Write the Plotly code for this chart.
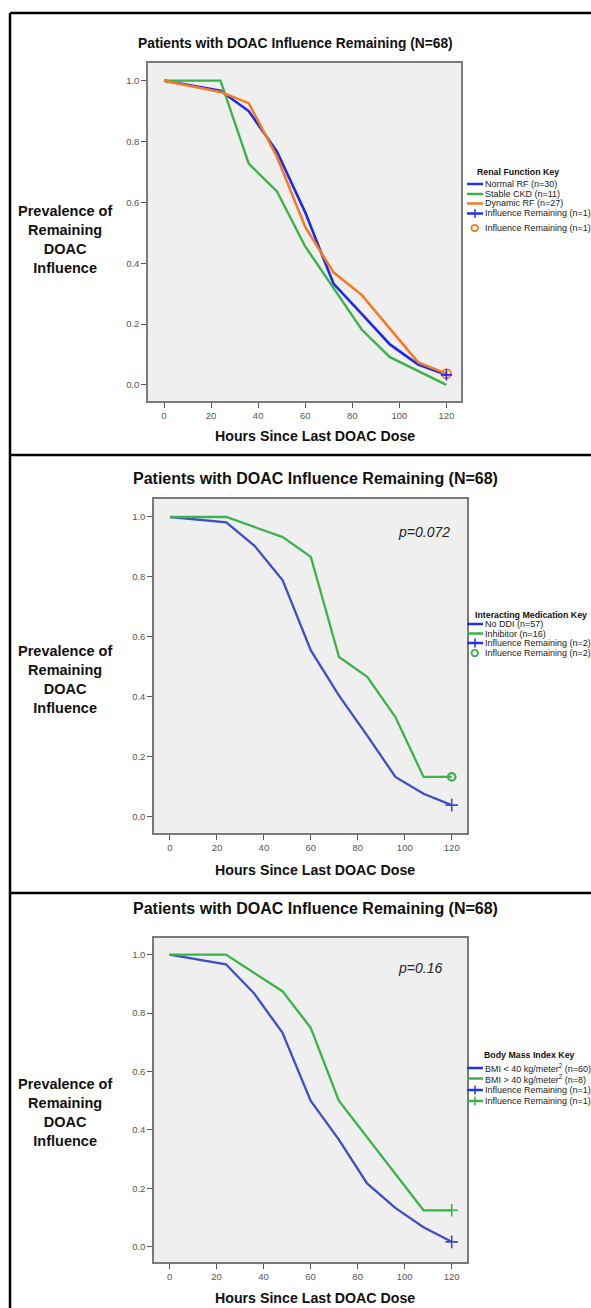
import plotly.graph_objects as go

# ---------------- data ----------------
hours = [0, 24, 36, 48, 60, 72, 84, 96, 108, 120]

# Panel 1: renal function
normal_rf = [1.0, 0.967, 0.900, 0.767, 0.567, 0.333, 0.233, 0.133, 0.067, 0.033]
stable_ckd = [1.0, 1.0, 0.727, 0.636, 0.455, 0.32, 0.182, 0.091, 0.045, 0.0]
dynamic_rf = [1.0, 0.963, 0.926, 0.75, 0.519, 0.370, 0.296, 0.185, 0.074, 0.037]

# Panel 2: interacting medication
no_ddi = [1.0, 0.982, 0.904, 0.789, 0.555, 0.404, 0.271, 0.133, 0.077, 0.039]
hours_inhibitor = [0, 24, 48, 60, 72, 84, 96, 108, 120]
inhibitor = [1.0, 1.0, 0.933, 0.867, 0.533, 0.467, 0.333, 0.133, 0.133]

# Panel 3: body mass index
bmi_lt40 = [1.0, 0.967, 0.867, 0.733, 0.5, 0.367, 0.217, 0.133, 0.067, 0.017]
hours_bmi_gt40 = [0, 24, 48, 60, 72, 84, 96, 108, 120]
bmi_gt40 = [1.0, 1.0, 0.875, 0.75, 0.5, 0.375, 0.25, 0.125, 0.125]

x_ticks = [0, 20, 40, 60, 80, 100, 120]
y_ticks = [0.0, 0.2, 0.4, 0.6, 0.8, 1.0]

panel_title = "Patients with DOAC Influence Remaining (N=68)"
y_title = "Prevalence of<br>Remaining<br>DOAC<br>Influence"
x_title = "Hours Since Last DOAC Dose"
p_values = ["", "p=0.072", "p=0.16"]

# ---------------- styling ----------------
W, H = 591, 1308
FONT = "Arial, Liberation Sans, sans-serif"
BLUE1 = "#1c28f2"
BLUE2 = "#3d4fc4"
BLUE_LEG = "#2233ee"
GREEN = "#3cb34a"
ORANGE = "#f47b20"


def px(x):
    return x / W


def py(y):
    return 1 - y / H


fig = go.Figure()


def line_trace(x, y, color, width, ax):
    fig.add_trace(go.Scatter(x=x, y=y, mode="lines", line=dict(color=color, width=width),
                             xaxis="x" + ax, yaxis="y" + ax, showlegend=False, hoverinfo="x+y"))


def end_marker(x, y, symbol, size, color, width, ax):
    fig.add_trace(go.Scatter(x=[x], y=[y], mode="markers",
                             marker=dict(symbol=symbol, size=size, color=color,
                                         line=dict(color=color, width=width)),
                             xaxis="x" + ax, yaxis="y" + ax, showlegend=False, hoverinfo="x+y"))


# Panel 1 traces
line_trace(hours, normal_rf, BLUE1, 2.6, "")
line_trace(hours, stable_ckd, GREEN, 2.4, "")
line_trace(hours, dynamic_rf, ORANGE, 2.6, "")
end_marker(hours[-1], dynamic_rf[-1], "circle-open", 9, ORANGE, 1.8, "")
end_marker(hours[-1], normal_rf[-1], "cross-thin", 8, BLUE1, 1.6, "")

# Panel 2 traces
line_trace(hours, no_ddi, BLUE2, 2.3, "2")
line_trace(hours_inhibitor, inhibitor, GREEN, 2.3, "2")
end_marker(hours[-1], no_ddi[-1], "cross-thin", 9, BLUE2, 1.6, "2")
end_marker(hours_inhibitor[-1], inhibitor[-1], "circle-open", 7.5, GREEN, 2.2, "2")

# Panel 3 traces
line_trace(hours, bmi_lt40, BLUE2, 2.3, "3")
line_trace(hours_bmi_gt40, bmi_gt40, GREEN, 2.3, "3")
end_marker(hours[-1], bmi_lt40[-1], "cross-thin", 9, BLUE2, 1.6, "3")
end_marker(hours_bmi_gt40[-1], bmi_gt40[-1], "cross-thin", 9, GREEN, 1.6, "3")

# ---------------- axes ----------------
common = dict(showgrid=False, zeroline=False, showline=True, linecolor="#7a7a7a", linewidth=1.5,
              mirror=True, ticks="outside", ticklen=5, tickwidth=1.2, tickcolor="#555",
              tickfont=dict(size=9.5, color="#555", family=FONT))

# plot-area pixel boxes: (left, top, right, bottom), axis ranges
panels = [
    dict(box=(148, 63, 461, 401), xr=[-6.8, 126.2], yr=[-0.053, 1.058]),
    dict(box=(154, 499, 467, 833), xr=[-6.8, 126.5], yr=[-0.054, 1.06]),
    dict(box=(154, 938, 467, 1262), xr=[-6.6, 126.5], yr=[-0.052, 1.057]),
]
layout_axes = {}
for i, p in enumerate(panels):
    l, t, r, b = p["box"]
    sfx = "" if i == 0 else str(i + 1)
    layout_axes["xaxis" + sfx] = dict(common, domain=[px(l), px(r)], range=p["xr"],
                                      tickvals=x_ticks, anchor="y" + sfx)
    layout_axes["yaxis" + sfx] = dict(common, domain=[py(b), py(t)], range=p["yr"],
                                      tickvals=y_ticks, tickformat=".1f", anchor="x" + sfx)

# ---------------- text ----------------
ann = []


def text(x, y, s, size, bold=False, italic=False, color="#111", xanchor="center"):
    if bold:
        s = "<b>" + s + "</b>"
    if italic:
        s = "<i>" + s + "</i>"
    ann.append(dict(x=px(x), y=py(y), xref="paper", yref="paper", text=s, showarrow=False,
                    xanchor=xanchor, yanchor="middle", align="center",
                    font=dict(size=size, color=color, family=FONT)))


title_pos = [(295, 44, 13.8), (315, 478, 16), (315, 908, 16)]
ytitle_pos = [(65, 239), (65, 680), (65, 1112)]
xtitle_pos = [(315, 436), (315, 870), (315, 1298)]
p_pos = [None, (396, 532), (396, 968)]
for i in range(3):
    tx, ty, ts = title_pos[i]
    text(tx, ty, panel_title, ts, bold=True)
    text(ytitle_pos[i][0], ytitle_pos[i][1], y_title, 14.5, bold=True)
    text(xtitle_pos[i][0], xtitle_pos[i][1], x_title, 14.2, bold=True)
    if p_pos[i]:
        text(p_pos[i][0], p_pos[i][1], p_values[i], 14, italic=True, xanchor="left", color="#222")

# ---------------- shapes: panel borders + manual legends ----------------
shapes = []


def seg(x0, y0, x1, y1, color="#000", width=2.5):
    shapes.append(dict(type="line", xref="paper", yref="paper", x0=px(x0), y0=py(y0),
                       x1=px(x1), y1=py(y1), line=dict(color=color, width=width)))


seg(10, 13, 591, 13)
seg(10, 13, 10, 1308)
seg(10, 455, 591, 455)
seg(10, 893, 591, 893)


def legend(title, title_xy, items):
    text(title_xy[0], title_xy[1], title, 8.8, bold=True, xanchor="left")
    for kind, color, label, y in items:
        if kind in ("line", "plus"):
            seg(467, y, 483, y, color=color, width=2.5)
        if kind == "plus":
            seg(475, y - 4.5, 475, y + 4.5, color=color, width=1.5)
        if kind == "circle":
            shapes.append(dict(type="circle", xref="paper", yref="paper",
                               x0=px(471.5), x1=px(478), y0=py(y + 3.2), y1=py(y - 3.2),
                               line=dict(color=color, width=1.8)))
        text(483, y, label, 9, xanchor="left", color="#222")


legend("Renal Function Key", (475, 172), [
    ("line", BLUE_LEG, "Normal RF (n=30)", 184),
    ("line", GREEN, "Stable CKD (n=11)", 194),
    ("line", ORANGE, "Dynamic RF (n=27)", 203.5),
    ("plus", BLUE_LEG, "Influence Remaining (n=1)", 213.5),
    ("circle", ORANGE, "Influence Remaining (n=1)", 228),
])
legend("Interacting Medication Key", (473, 615), [
    ("line", BLUE_LEG, "No DDI (n=57)", 624),
    ("line", GREEN, "Inhibitor (n=16)", 633.5),
    ("plus", BLUE_LEG, "Influence Remaining (n=2)", 643),
    ("circle", GREEN, "Influence Remaining (n=2)", 653),
])
legend("Body Mass Index Key", (482, 1055), [
    ("line", BLUE_LEG, "BMI &lt; 40 kg/meter<sup>2</sup> (n=60)", 1068),
    ("line", GREEN, "BMI &gt; 40 kg/meter<sup>2</sup> (n=8)", 1078.5),
    ("plus", BLUE_LEG, "Influence Remaining (n=1)", 1090),
    ("plus", GREEN, "Influence Remaining (n=1)", 1101),
])

fig.update_layout(
    width=W, height=H, margin=dict(l=0, r=0, t=0, b=0),
    paper_bgcolor="white", plot_bgcolor="#efefef",
    font=dict(family=FONT, color="#111"),
    annotations=ann, shapes=shapes, showlegend=False,
    **layout_axes,
)

fig.write_html(
    "out.html",
    config={"displayModeBar": False},
    post_script="document.body.style.margin='0';document.body.style.overflow='hidden';",
)
